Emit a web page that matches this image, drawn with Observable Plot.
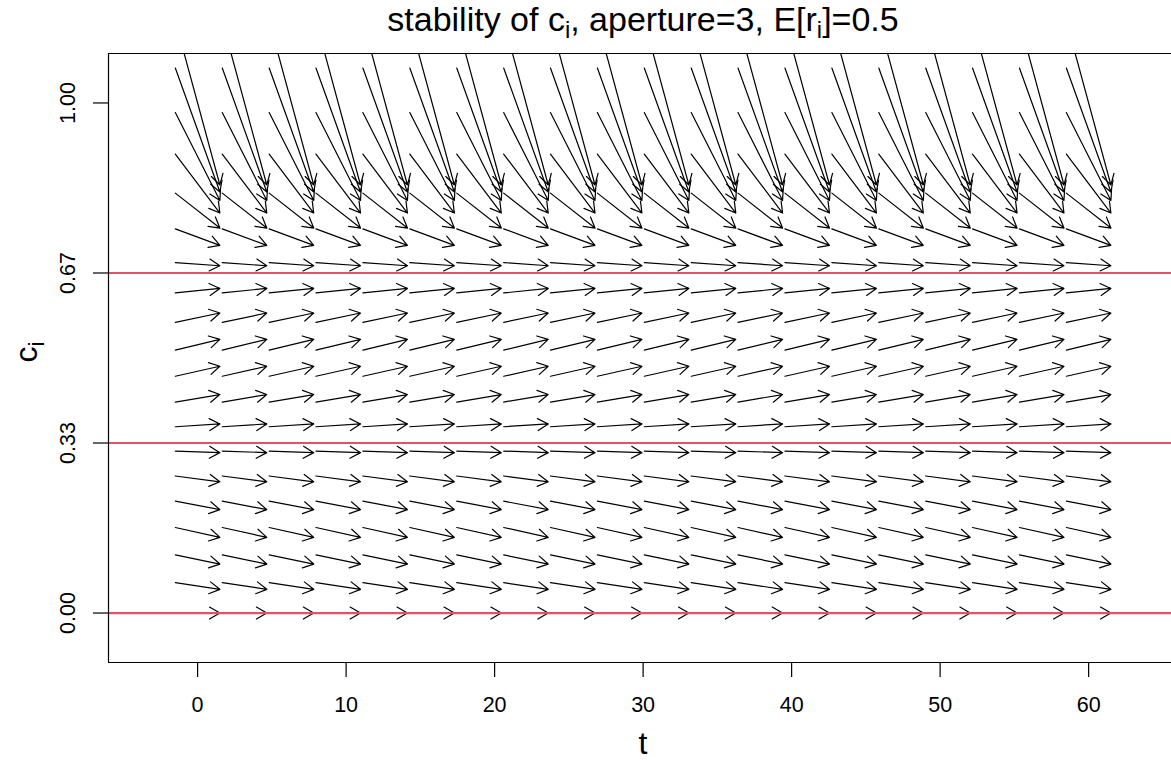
<!DOCTYPE html>
<html><head><meta charset="utf-8">
<script src="https://cdn.jsdelivr.net/npm/d3@7"></script>
<script src="https://cdn.jsdelivr.net/npm/@observablehq/plot@0.6"></script>
<style>
html,body{margin:0;padding:0;background:#fff;overflow:hidden}
#chart{position:absolute;left:0;top:0;width:1171px;height:760px}
</style></head><body><div id="chart"></div>
<script>
// grid of times (columns) and c_i values (rows)
const tCols = [0, 3.16, 6.32, 9.47, 12.63, 15.79, 18.95, 22.11, 25.26, 28.42, 31.58, 34.74, 37.89, 41.05, 44.21, 47.37, 50.53, 53.68, 56.84, 60];
const cRows = [0, 0.053, 0.105, 0.158, 0.211, 0.263, 0.316, 0.368, 0.421, 0.474, 0.526, 0.579, 0.632, 0.684, 0.737, 0.789, 0.842, 0.895, 0.947, 1.0];
// change in c_i across one arrow, per row
const dcRows = [0, -0.0131, -0.0180, -0.0194, -0.0165, -0.0114, -0.0031, 0.0055, 0.0147, 0.0196, 0.0212, 0.0184, 0.0088, -0.0063, -0.0324, -0.0686, -0.1157, -0.1725, -0.2431, -0.3216];
const equilibria = [0, 1/3, 2/3];
const xTicks = [0, 10, 20, 30, 40, 50, 60];
const yTicks = [0, 1/3, 2/3, 1];
const yTickLabels = ["0.00", "0.33", "0.67", "1.00"];

const W = 1171, H = 760;
const span = 3.0; // time span covered by each arrow
const xDomain = [-6, 65.58], yDomain = [-0.097, 1.097];

const arrows = [];
for (const t of tCols) {
  cRows.forEach((c, i) => {
    const dc = dcRows[i];
    arrows.push({x1: t - span / 2, x2: t + span / 2, y1: c - dc / 2, y2: c + dc / 2});
  });
}

const font = "'Liberation Sans', Arial, Helvetica, sans-serif";
const chart = Plot.plot({
  width: W, height: H,
  marginLeft: 108, marginRight: 0, marginTop: 53, marginBottom: 98,
  x: {domain: xDomain},
  y: {domain: yDomain},
  style: {fontFamily: font, background: "white", color: "black"},
  marks: [
    Plot.arrow(arrows, {x1: "x1", y1: "y1", x2: "x2", y2: "y2", stroke: "black", strokeWidth: 1.2, headLength: 15, headAngle: 60, clip: true}),
    Plot.ruleY(equilibria, {stroke: "#DF536B", strokeWidth: 2.2}),
    Plot.ruleX([xDomain[0]], {stroke: "black", strokeWidth: 1.2}),
    Plot.ruleY(yDomain, {stroke: "black", strokeWidth: 1.2}),
    Plot.axisX(xTicks, {tickSize: 15, tickPadding: 19, fontSize: 21.5, label: null, tickFormat: d => String(d), stroke: "black", strokeWidth: 1.2, fill: "black"}),
    Plot.axisY(yTicks, {tickSize: 15, tickFormat: () => "", label: null, stroke: "black", strokeWidth: 1.2}),
    Plot.text(yTicks, {y: d => d, text: (d, i) => yTickLabels[i], frameAnchor: "left", dx: -40, rotate: -90, fontSize: 21.5, textAnchor: "middle", lineAnchor: "middle", fill: "black"})
  ]
});
document.getElementById("chart").appendChild(chart);

const svg = d3.select(chart);
function addText(x, y, parts, size, rotate) {
  const t = svg.append("text")
    .attr("transform", `translate(${x},${y})` + (rotate ? ` rotate(${rotate})` : ""))
    .attr("text-anchor", "middle")
    .attr("font-family", font)
    .attr("font-size", size)
    .attr("fill", "black");
  const shift = size * 0.22;
  let prevSub = false;
  parts.forEach(([s, sub]) => {
    const ts = t.append("tspan").text(s);
    if (sub) ts.attr("font-size", size * 0.7).attr("dy", shift);
    else if (prevSub) ts.attr("dy", -shift);
    prevSub = sub;
  });
}
addText(643, 31, [["stability of c", false], ["i", true], [", aperture=3, E[r", false], ["i", true], ["]=0.5", false]], 34);
addText(643, 754, [["t", false]], 32);
addText(37, 352, [["c", false], ["i", true]], 32, -90);
</script>
</body></html>
